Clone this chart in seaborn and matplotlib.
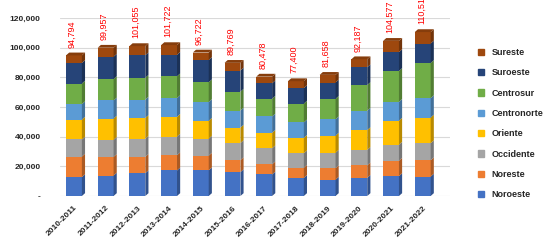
import matplotlib
matplotlib.use("Agg")
import matplotlib.pyplot as plt
import seaborn as sb
from matplotlib.patches import Polygon, Patch
from matplotlib.colors import to_rgb

seasons = ["2010-2011", "2011-2012", "2012-2013", "2013-2014", "2014-2015", "2015-2016",
           "2016-2017", "2017-2018", "2018-2019", "2019-2020", "2020-2021", "2021-2022"]
totals = [94794, 99957, 101055, 101722, 96722, 89769, 80478, 77400, 81658, 92187, 104577, 110517]

noroeste = [12700, 13800, 15400, 17200, 17300, 16100, 14500, 12200, 11000, 12200, 13400, 13100]
noreste = [13900, 12600, 11000, 10300, 9900, 8100, 6900, 6900, 7800, 8500, 10400, 11000]
occidente = [11500, 11500, 12200, 12600, 11500, 11500, 10800, 9700, 10400, 10400, 10800, 11500]
oriente = [13400, 14300, 14000, 13300, 12000, 10400, 10400, 10400, 11500, 13300, 16200, 17300]
centronorte = [10400, 12200, 12400, 12600, 12700, 11500, 11000, 10400, 11000, 13100, 12700, 13100]
centrosur = [13900, 14500, 14700, 14700, 13300, 12700, 12000, 12700, 13800, 17300, 20800, 23700]
suroeste = [13900, 15000, 15200, 14500, 15000, 14300, 10400, 10400, 11000, 12000, 12700, 13100]
sureste = [5094, 6057, 6155, 6522, 5022, 5169, 4478, 4700, 5158, 5387, 7577, 7717]

regions = ["Noroeste", "Noreste", "Occidente", "Oriente", "Centronorte", "Centrosur", "Suroeste", "Sureste"]
series = [noroeste, noreste, occidente, oriente, centronorte, centrosur, suroeste, sureste]
colors = ["#4472C4", "#ED7D31", "#A5A5A5", "#FFC000", "#5B9BD5", "#70AD47", "#264478", "#9E480E"]

sb.set_style("white")
plt.rcParams['font.family'] = ['Liberation Sans', 'DejaVu Sans']

fig = plt.figure(figsize=(5.5, 2.49), dpi=100)
ax = fig.add_axes([60 / 550, 53 / 249, 390 / 550, 178 / 249])

bottom = [0] * len(seasons)
for name, vals, col in zip(regions, series, colors):
    sb.barplot(x=seasons, y=vals, bottom=bottom, color=col, saturation=1, width=0.5,
               errorbar=None, ax=ax, zorder=3, linewidth=0, edgecolor=col)
    bottom = [b + v for b, v in zip(bottom, vals)]

# fake 3d: side faces and top cap
dx = 0.1
dy = 1900
for k, (cont, col) in enumerate(zip(ax.containers, colors)):
    side = tuple(c * 0.72 for c in to_rgb(col))
    top = tuple(c * 0.85 for c in to_rgb(col))
    for bar in cont:
        x0, y0 = bar.get_x(), bar.get_y()
        w, h = bar.get_width(), bar.get_height()
        ax.add_patch(Polygon([(x0 + w, y0), (x0 + w + dx, y0 + dy), (x0 + w + dx, y0 + h + dy),
                              (x0 + w, y0 + h)], closed=True, color=side, lw=0, zorder=3))
        if k == len(colors) - 1:
            ax.add_patch(Polygon([(x0, y0 + h), (x0 + dx, y0 + h + dy), (x0 + w + dx, y0 + h + dy),
                                  (x0 + w, y0 + h)], closed=True, color=top, lw=0, zorder=3))

for i, t in enumerate(totals):
    ax.text(i - 0.05, t + 5200, f"{t:,}", rotation=90, ha='center', va='bottom',
            color='#FF0000', fontsize=6.5, clip_on=False)

ax.set_xlim(-0.44, 11.86)
ax.set_ylim(0, 120000)
ax.set_yticks(range(0, 120001, 20000))
ax.set_yticklabels(["-" if v == 0 else f"{v:,}" for v in range(0, 120001, 20000)],
                   fontsize=6, fontweight='bold')
ax.tick_params(axis='y', length=0, pad=14)
ax.tick_params(axis='x', length=0, pad=6)
for lab in ax.get_xticklabels():
    lab.set_rotation(45)
    lab.set_ha('right')
    lab.set_rotation_mode('anchor')
    lab.set_fontsize(6)
    lab.set_fontweight('bold')
ax.grid(axis='y', color='#D9D9D9', lw=0.8, zorder=0)
for s in ax.spines.values():
    s.set_visible(False)
ax.set_xlabel("")
ax.set_ylabel("")

handles = [Patch(color=c) for c in colors][::-1]
fig.legend(handles, regions[::-1], loc='upper left', bbox_to_anchor=(470 / 550, 1 - 40 / 249),
           frameon=False, prop=dict(weight='bold', size=6.5), labelspacing=1.25,
           handlelength=0.7, handleheight=0.7, handletextpad=0.8)

fig.savefig("out.png", dpi=100)
